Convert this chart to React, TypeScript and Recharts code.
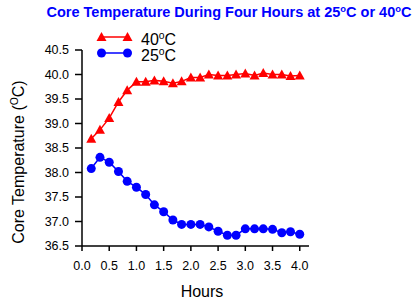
import { LineChart, Line, XAxis, YAxis } from "recharts";

const hours = [0.17, 0.33, 0.5, 0.67, 0.83, 1.0, 1.17, 1.33, 1.5, 1.67, 1.83, 2.0, 2.17, 2.33, 2.5, 2.67, 2.83, 3.0, 3.17, 3.33, 3.5, 3.67, 3.83, 4.0];
const temp40 = [38.69, 38.87, 39.11, 39.44, 39.68, 39.85, 39.85, 39.88, 39.86, 39.82, 39.86, 39.94, 39.94, 40.0, 39.98, 39.98, 40.0, 40.02, 39.98, 40.03, 40.0, 40.0, 39.97, 39.98];
const temp25 = [38.08, 38.31, 38.21, 38.02, 37.82, 37.7, 37.55, 37.34, 37.2, 37.03, 36.94, 36.94, 36.94, 36.89, 36.8, 36.72, 36.72, 36.85, 36.85, 36.85, 36.84, 36.77, 36.79, 36.74];
const xTicks = [0, 0.5, 1, 1.5, 2, 2.5, 3, 3.5, 4];
const yTicks = [36.5, 37, 37.5, 38, 38.5, 39, 39.5, 40, 40.5];

const data = hours.map((h, i) => ({ h, t40: temp40[i], t25: temp25[i] }));

const RED = "#ff0000";
const BLUE = "#0000ff";
const font = "'Liberation Sans', Arial, sans-serif";

const Triangle = (props: any) => {
  const { cx, cy, index } = props;
  if (cx == null || cy == null) return null;
  return <polygon key={"tri" + index} points={`${cx},${cy - 5} ${cx - 5},${cy + 4} ${cx + 5},${cy + 4}`} fill={RED} />;
};

const sup = { fontSize: "0.65em", verticalAlign: "0.55em", lineHeight: 0 } as const;

// legend drawn by hand, two rows 16px apart
const LegendBlock = () => (
  <>
    <svg width={40} height={32} style={{ position: "absolute", left: 95, top: 30 }}>
      <line x1={6.5} y1={7} x2={32.5} y2={7} stroke={RED} strokeWidth={1.5} />
      <polygon points="6.5,2 1.5,11 11.5,11" fill={RED} />
      <polygon points="32.5,2 27.5,11 37.5,11" fill={RED} />
      <line x1={6.5} y1={23} x2={32.5} y2={23} stroke={BLUE} strokeWidth={1.5} />
      <circle cx={6.5} cy={23} r={4.5} fill={BLUE} />
      <circle cx={32.5} cy={23} r={4.5} fill={BLUE} />
    </svg>
    <div style={{ position: "absolute", left: 141, top: 32, fontSize: 16, lineHeight: "16px", whiteSpace: "nowrap" }}>
      40<span style={sup}>o</span>C
    </div>
    <div style={{ position: "absolute", left: 141, top: 48, fontSize: 16, lineHeight: "16px", whiteSpace: "nowrap" }}>
      25<span style={sup}>o</span>C
    </div>
  </>
);

export default function App() {
  return (
    <div style={{ position: "absolute", left: 0, top: 0, width: 414, height: 302, background: "#fff", fontFamily: font }}>
      <LineChart width={414} height={302} data={data} margin={{ top: 50, right: 105, bottom: 26, left: 0 }} style={{ position: "absolute", left: 0, top: 0 }}>
        <XAxis
          dataKey="h"
          type="number"
          domain={[0, 4.17]}
          ticks={xTicks}
          tickFormatter={(v: number) => v.toFixed(1)}
          height={30}
          tickSize={5}
          tickMargin={10}
          axisLine={{ stroke: "#000", strokeWidth: 1.5 }}
          tickLine={{ stroke: "#000", strokeWidth: 1.5 }}
          tick={{ fill: "#000", fontSize: 12.5, fontFamily: font }}
        />
        <YAxis
          type="number"
          domain={[36.5, 40.5]}
          ticks={yTicks}
          tickFormatter={(v: number) => v.toFixed(1)}
          width={82}
          tickSize={7}
          tickMargin={6}
          axisLine={{ stroke: "#000", strokeWidth: 1.5 }}
          tickLine={{ stroke: "#000", strokeWidth: 1.5 }}
          tick={{ fill: "#000", fontSize: 12.5, fontFamily: font }}
        />
        <Line dataKey="t40" stroke={RED} strokeWidth={1.5} dot={Triangle} isAnimationActive={false} />
        <Line dataKey="t25" stroke={BLUE} strokeWidth={1.5} dot={{ r: 4.5, fill: BLUE, stroke: BLUE, strokeWidth: 0 }} isAnimationActive={false} />
      </LineChart>
      <div style={{ position: "absolute", left: 44, top: 4, width: 370, textAlign: "center", color: BLUE, fontWeight: "bold", fontSize: 14.5, lineHeight: "16px", whiteSpace: "nowrap" }}>
        Core Temperature During Four Hours at 25<span style={sup}>o</span>C or 40<span style={sup}>o</span>C
      </div>
      <LegendBlock />
      <div style={{ position: "absolute", left: 19, top: 162, transform: "translate(-50%, -50%) rotate(-90deg)", fontSize: 16, lineHeight: "18px", whiteSpace: "nowrap" }}>
        Core Temperature (<span style={sup}>O</span>C)
      </div>
      <div style={{ position: "absolute", left: 202, top: 283, transform: "translateX(-50%)", fontSize: 16, lineHeight: "18px" }}>Hours</div>
    </div>
  );
}
